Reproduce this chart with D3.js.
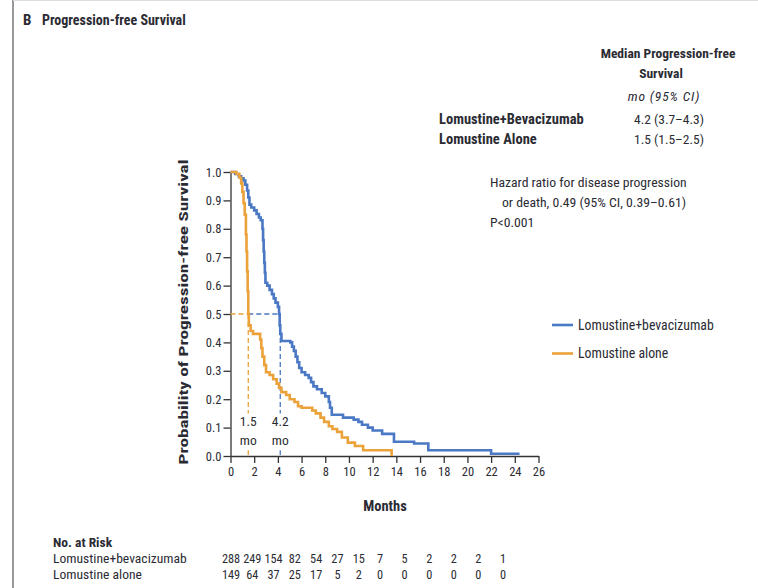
<!DOCTYPE html>
<html>
<head>
<meta charset="utf-8">
<script src="https://cdn.jsdelivr.net/npm/d3@7"></script>
<style>
  body { margin: 0; background: #fff; }
  svg text { font-family: 'Liberation Sans Narrow', 'Roboto Condensed', 'Open Sans', sans-serif; fill: #2b2b33; }
</style>
</head>
<body>
<div class="km"></div>
<script>
// x axis ticks (months) and y axis ticks
var monthTicks = d3.range(0, 27, 2);
var probTicks = [0, 0.1, 0.2, 0.3, 0.4, 0.5, 0.6, 0.7, 0.8, 0.9, 1.0];

// Kaplan-Meier steps
var bevTimes = [0, 0.4, 0.7, 0.9, 1.1, 1.25, 1.4, 1.5, 1.6, 1.75, 2.0, 2.2, 2.4, 2.55, 2.7, 2.75, 2.8, 2.85, 2.9, 2.95,
    3.1, 3.3, 3.5, 3.65, 3.8, 4.0, 4.1, 4.15, 4.2, 4.3, 5.05, 5.2, 5.35, 5.5, 5.65, 5.8, 6.0, 6.3, 6.6, 6.8,
    7.0, 7.3, 7.7, 8.0, 8.3, 8.4, 8.55, 9.5, 10.4, 10.8, 11.1, 11.6, 12.0, 12.8, 13.8, 15.5, 16.7, 22.0];
var bevSurv = [1.0, 0.993, 0.985, 0.978, 0.97, 0.955, 0.935, 0.91, 0.885, 0.875, 0.865, 0.852, 0.84, 0.83, 0.80, 0.76, 0.72, 0.68, 0.645, 0.61,
    0.60, 0.585, 0.57, 0.555, 0.54, 0.525, 0.50, 0.46, 0.43, 0.405, 0.40, 0.385, 0.37, 0.35, 0.33, 0.31, 0.295, 0.285, 0.275, 0.26,
    0.245, 0.235, 0.222, 0.21, 0.19, 0.17, 0.145, 0.135, 0.128, 0.12, 0.11, 0.10, 0.09, 0.078, 0.05, 0.044, 0.02, 0.008];
var bevEnd = 24.4;

var lomTimes = [0, 0.5, 0.75, 0.9, 1.0, 1.1, 1.2, 1.3, 1.35, 1.4, 1.45, 1.5, 1.55, 1.7, 1.9, 2.5, 2.6, 2.7, 2.85, 3.0,
    3.3, 3.6, 3.9, 4.1, 4.3, 4.7, 5.0, 5.4, 5.7, 6.0, 6.9, 7.2, 7.6, 7.9, 8.3, 8.6, 9.0, 9.4, 9.9, 10.5, 11.2, 13.6];
var lomSurv = [1.0, 0.993, 0.98, 0.96, 0.93, 0.89, 0.85, 0.78, 0.72, 0.65, 0.58, 0.50, 0.46, 0.44, 0.43, 0.41, 0.38, 0.35, 0.32, 0.295,
    0.285, 0.27, 0.255, 0.24, 0.225, 0.215, 0.20, 0.19, 0.175, 0.17, 0.16, 0.15, 0.135, 0.12, 0.105, 0.095, 0.085, 0.065, 0.047, 0.035, 0.02, 0];
var lomEnd = 13.6;

var groups = ['Lomustine+bevacizumab', 'Lomustine alone'];
var medians = [4.2, 1.5];

// numbers at risk
var riskTimes = d3.range(0, 25, 2);
var riskBev = [288, 249, 154, 82, 54, 27, 15, 7, 5, 2, 2, 2, 1];
var riskLom = [149, 64, 37, 25, 17, 5, 2, 0, 0, 0, 0, 0, 0];

var blue = '#4a78c4', orange = '#eba23a';
var W = 758, H = 588;

var svg = d3.select('.km').append('svg').attr('width', W).attr('height', H);

// frame
svg.append('line').attr('x1', 13).attr('x2', 13).attr('y1', 0).attr('y2', H)
    .attr('stroke', '#555').attr('stroke-width', 1.2);
svg.append('line').attr('x1', 13).attr('x2', W).attr('y1', 0.5).attr('y2', 0.5)
    .attr('stroke', '#ddd').attr('stroke-width', 1);

// title
svg.append('text').attr('x', 23).attr('y', 25).attr('font-weight', 'bold').attr('font-size', 15).text('B');
svg.append('text').attr('x', 42).attr('y', 25).attr('font-weight', 'bold').attr('font-size', 14)
    .text('Progression-free Survival');

var x = d3.scaleLinear().domain([0, 26]).range([230.5, 538.5]);
var y = d3.scaleLinear().domain([0, 1]).range([456, 172]);
// at-risk columns in the figure are packed tighter up to month 14, then wider
var xRisk = d3.scaleLinear().domain([0, 14, 24]).range([231, 380, 503]);

var g = svg.append('g');

// axes
var xAxis = g.append('g').attr('transform', 'translate(0,' + y(0) + ')')
    .call(d3.axisBottom(x).tickValues(monthTicks).tickSize(7).tickSizeOuter(0).tickPadding(4));
var yAxis = g.append('g').attr('transform', 'translate(' + x(0) + ',0)')
    .call(d3.axisLeft(y).tickValues(probTicks).tickFormat(d3.format('.1f')).tickSize(7).tickSizeOuter(0).tickPadding(2));
[xAxis, yAxis].forEach(function (a) {
    a.selectAll('path, line').attr('stroke', '#333').attr('stroke-width', 1.3);
    a.selectAll('text').attr('font-size', 12.5).attr('fill', '#3a3a50')
        .style('font-family', "'Liberation Sans Narrow', 'Roboto Condensed', 'Open Sans', sans-serif");
});

// median dashed guides
var dash = '5,3';
g.append('line').attr('x1', x(0)).attr('x2', x(medians[1])).attr('y1', y(0.5)).attr('y2', y(0.5))
    .attr('stroke', orange).attr('stroke-width', 1.3).attr('stroke-dasharray', dash);
g.append('line').attr('x1', x(medians[1])).attr('x2', x(medians[0])).attr('y1', y(0.5)).attr('y2', y(0.5))
    .attr('stroke', blue).attr('stroke-width', 1.3).attr('stroke-dasharray', dash);
g.append('line').attr('x1', x(medians[1])).attr('x2', x(medians[1])).attr('y1', y(0.5)).attr('y2', y(0))
    .attr('stroke', orange).attr('stroke-width', 1.3).attr('stroke-dasharray', dash);
g.append('line').attr('x1', x(medians[0])).attr('x2', x(medians[0])).attr('y1', y(0.5)).attr('y2', y(0))
    .attr('stroke', blue).attr('stroke-width', 1.3).attr('stroke-dasharray', dash);

// median labels with white patch behind
medians.forEach(function (m) {
    g.append('rect').attr('x', x(m) - 10).attr('y', y(0.15)).attr('width', 20).attr('height', y(0.02) - y(0.15))
        .attr('fill', '#fff');
    g.append('text').attr('x', x(m)).attr('y', y(0.105)).attr('text-anchor', 'middle').attr('font-size', 13.5)
        .attr('fill', '#3a3a50').text(d3.format('.1f')(m));
    g.append('text').attr('x', x(m)).attr('y', y(0.04)).attr('text-anchor', 'middle').attr('font-size', 13.5)
        .attr('fill', '#3a3a50').text('mo');
});

// curves
var line = d3.line().curve(d3.curveStepAfter).x(function (d) { return x(d[0]); }).y(function (d) { return y(d[1]); });
function pts(times, surv, end) {
    var p = times.map(function (t, i) { return [t, surv[i]]; });
    if (end > times[times.length - 1]) p.push([end, surv[surv.length - 1]]);
    return p;
}
g.append('path').attr('d', line(pts(bevTimes, bevSurv, bevEnd)))
    .attr('fill', 'none').attr('stroke', blue).attr('stroke-width', 2.6);
g.append('path').attr('d', line(pts(lomTimes, lomSurv, lomEnd)))
    .attr('fill', 'none').attr('stroke', orange).attr('stroke-width', 2.6);

// axis titles
svg.append('text').attr('transform', 'translate(188,312) rotate(-90)').attr('text-anchor', 'middle')
    .attr('font-weight', 'bold').attr('font-size', 13.5).attr('textLength', 305).attr('lengthAdjust', 'spacingAndGlyphs')
    .text('Probability of Progression-free Survival');
svg.append('text').attr('x', 385).attr('y', 511).attr('text-anchor', 'middle').attr('font-weight', 'bold')
    .attr('font-size', 14.5).text('Months');

// legend
[blue, orange].forEach(function (c, i) {
    var ly = 325 + i * 28.5;
    svg.append('line').attr('x1', 552).attr('x2', 573).attr('y1', ly).attr('y2', ly)
        .attr('stroke', c).attr('stroke-width', 2.6);
    svg.append('text').attr('x', 578).attr('y', ly + 4.5).attr('font-size', 13.8).text(groups[i]);
});

// median table
var tbl = svg.append('g');
tbl.append('text').attr('x', 668).attr('y', 58).attr('text-anchor', 'middle').attr('font-weight', 'bold')
    .attr('font-size', 13.5).text('Median Progression-free');
tbl.append('text').attr('x', 661).attr('y', 78).attr('text-anchor', 'middle').attr('font-weight', 'bold')
    .attr('font-size', 13.5).text('Survival');
tbl.append('text').attr('x', 664).attr('y', 101).attr('text-anchor', 'middle').attr('font-style', 'italic')
    .attr('font-size', 13.5).attr('letter-spacing', 0.9).text('mo (95% CI)');
tbl.append('text').attr('x', 439).attr('y', 124).attr('font-weight', 'bold').attr('font-size', 14.5)
    .text('Lomustine+Bevacizumab');
tbl.append('text').attr('x', 439).attr('y', 144).attr('font-weight', 'bold').attr('font-size', 14.5)
    .text('Lomustine Alone');
tbl.append('text').attr('x', 634).attr('y', 124).attr('font-size', 13.5).text('4.2 (3.7–4.3)');
tbl.append('text').attr('x', 634).attr('y', 144).attr('font-size', 13.5).text('1.5 (1.5–2.5)');
tbl.append('text').attr('x', 490).attr('y', 187).attr('font-size', 13.7).text('Hazard ratio for disease progression');
tbl.append('text').attr('x', 502).attr('y', 207).attr('font-size', 13.7).text('or death, 0.49 (95% CI, 0.39–0.61)');
tbl.append('text').attr('x', 490).attr('y', 227).attr('font-size', 13.7).text('P<0.001');

// numbers at risk
svg.append('text').attr('x', 53).attr('y', 547).attr('font-weight', 'bold').attr('font-size', 13.5).text('No. at Risk');
[riskBev, riskLom].forEach(function (row, i) {
    var ry = 563 + i * 16;
    svg.append('text').attr('x', 53).attr('y', ry).attr('font-size', 13.6).text(i === 0 ? 'Lomustine+bevacizumab' : 'Lomustine alone');
    svg.append('g').selectAll('text').data(row).join('text')
        .attr('x', function (d, j) { return xRisk(riskTimes[j]); })
        .attr('y', ry).attr('text-anchor', 'middle').attr('font-size', 12.3)
        .text(function (d) { return d; });
});
</script>
</body>
</html>
